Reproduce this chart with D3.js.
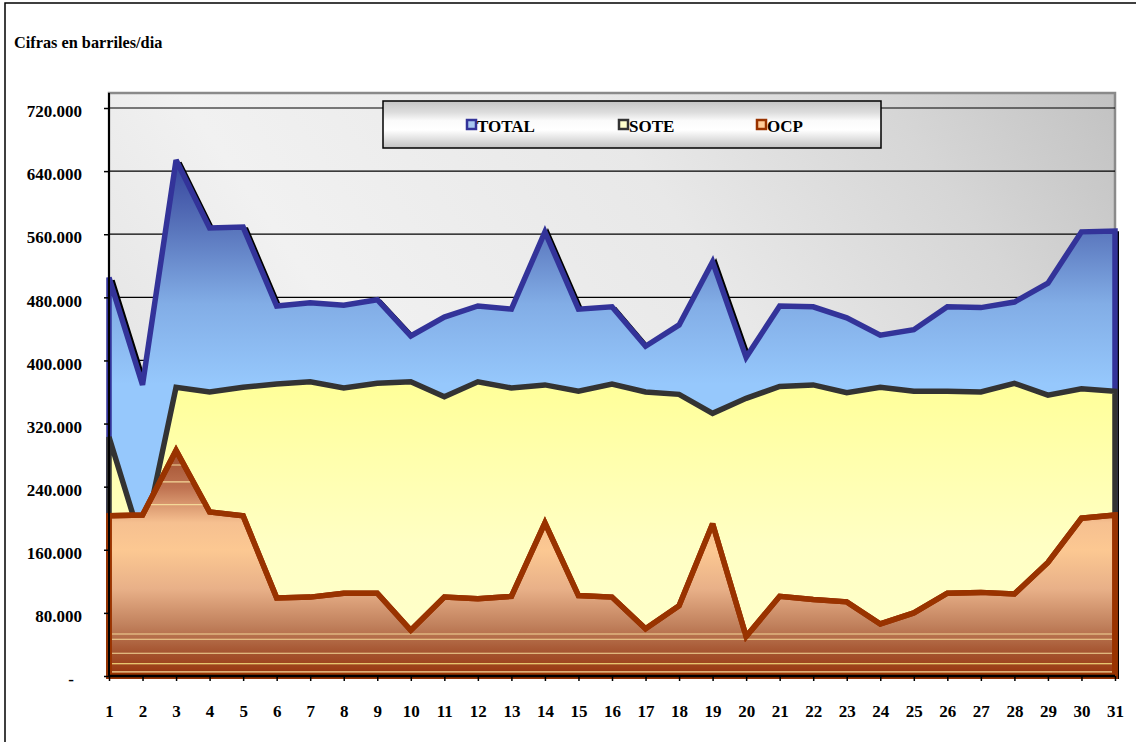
<!DOCTYPE html>
<html>
<head>
<meta charset="utf-8">
<script src="https://cdn.jsdelivr.net/npm/d3@7"></script>
<style>
  html, body { margin: 0; padding: 0; background: #ffffff; }
  svg { display: block; }
  text { font-family: "Liberation Serif", "Times New Roman", serif; font-weight: bold; fill: #000; }
</style>
</head>
<body>
<svg id="chart" width="1136" height="742"></svg>
<script>
// ---------- data ----------
const days = ["1","2","3","4","5","6","7","8","9","10","11","12","13","14","15","16","17","18","19","20","21","22","23","24","25","26","27","28","29","30","31"];
const seriesNames = ["TOTAL", "SOTE", "OCP"];
const total = [505000, 369000, 654000, 568000, 569000, 469000, 473000, 470000, 477000, 431000, 455000, 469000, 465000, 563000, 465000, 468000, 418000, 445000, 525000, 404000, 469000, 468000, 454000, 432000, 439000, 468000, 467000, 474000, 498000, 563000, 564000];
const sote  = [303000, 165000, 366000, 360000, 366000, 370000, 373000, 365000, 371000, 373000, 354000, 373000, 365000, 369000, 361000, 370000, 360000, 357000, 333000, 352000, 367000, 369000, 359000, 366000, 361000, 361000, 360000, 371000, 356000, 364000, 361000];
const ocp   = [203000, 204000, 286000, 208000, 203000,  99000, 100000, 105000, 105000,  58000, 100000,  98000, 101000, 194000, 102000, 100000,  60000,  89000, 193000,  50000, 101000,  97000,  94000,  66000,  80000, 105000, 106000, 104000, 144000, 200000, 204000];
const yTicks = [0, 80000, 160000, 240000, 320000, 400000, 480000, 560000, 640000, 720000];
const yTickLabels = ["-", "80.000", "160.000", "240.000", "320.000", "400.000", "480.000", "560.000", "640.000", "720.000"];
const yTitle = "Cifras en barriles/dia";

// ---------- layout ----------
const svg = d3.select("#chart");
const plot = { left: 109, right: 1115, top: 93, bottom: 676 };
const x = d3.scalePoint().domain(days).range([plot.left, plot.right]);
const y = d3.scaleLinear().domain([0, 720000]).range([plot.bottom, 108]);

const defs = svg.append("defs");
function lin(id, attrs, stops) {
  const g = defs.append("linearGradient").attr("id", id);
  Object.entries(attrs).forEach(([k, v]) => g.attr(k, v));
  stops.forEach(([o, c]) => g.append("stop").attr("offset", o).attr("stop-color", c));
}
lin("bgGrad", { x1: 0, y1: 0.4, x2: 1, y2: 0 }, [[0, "#e6e6e6"], [0.2, "#f1f1f1"], [0.55, "#e8e8e8"], [0.8, "#d6d6d6"], [1, "#c2c2c2"]]);
lin("totGrad", { gradientUnits: "userSpaceOnUse", x1: 0, y1: y(660000), x2: 0, y2: y(370000) }, [[0, "#33409a"], [0.3, "#5671b9"], [0.65, "#82ade6"], [1, "#96c8fc"]]);
lin("soteGrad", { gradientUnits: "userSpaceOnUse", x1: 0, y1: y(370000), x2: 0, y2: y(0) }, [[0, "#ffff99"], [0.55, "#ffffc4"], [1, "#ffffcc"]]);
lin("ocpGrad", { gradientUnits: "userSpaceOnUse", x1: 0, y1: y(290000), x2: 0, y2: y(0) }, [[0, "#9c4a2a"], [0.18, "#c07452"], [0.33, "#f6c090"], [0.45, "#fcc892"], [0.62, "#e8b088"], [0.78, "#c0805c"], [0.9, "#a4532f"], [1, "#98330a"]]);
lin("legGrad", { x1: 0, y1: 0, x2: 0, y2: 1 }, [[0, "#c4c4c4"], [0.25, "#dedede"], [0.42, "#fbfbfb"], [0.62, "#ffffff"], [0.8, "#e2e2e2"], [1, "#c2c2c2"]]);

defs.append("clipPath").attr("id", "plotClip").append("rect")
  .attr("x", plot.left).attr("y", plot.top)
  .attr("width", plot.right - plot.left + 1).attr("height", plot.bottom - plot.top);

// outer border
svg.append("rect").attr("x", 5).attr("y", 3).attr("width", 1150).attr("height", 760)
  .attr("fill", "#fff").attr("stroke", "#000").attr("stroke-width", 1.5);

// title
svg.append("text").attr("x", 14).attr("y", 48).style("font-size", "16.3px").text(yTitle);

// plot background
svg.append("rect").attr("x", plot.left).attr("y", plot.top)
  .attr("width", plot.right - plot.left).attr("height", plot.bottom - plot.top)
  .attr("fill", "url(#bgGrad)").attr("stroke", "#8a8a8a").attr("stroke-width", 2.5);

// gridlines
svg.append("g").selectAll("line").data(yTicks.filter(d => d > 0)).join("line")
  .attr("x1", plot.left).attr("x2", plot.right)
  .attr("y1", d => y(d)).attr("y2", d => y(d))
  .attr("stroke", "#000").attr("stroke-width", 1.2);

const area = d3.area().x((d, i) => x(days[i])).y0(y(0)).y1(d => y(d));

// TOTAL shadow
svg.append("path").datum(total).attr("d", area)
  .attr("transform", "translate(3,3)")
  .attr("clip-path", "url(#plotClip)")
  .attr("fill", "#000").attr("stroke", "#000").attr("stroke-width", 5.5)
  .attr("stroke-linejoin", "miter").attr("stroke-miterlimit", 3);

const series = [
  { name: "TOTAL", values: total, fill: "url(#totGrad)", stroke: "#333399" },
  { name: "SOTE",  values: sote,  fill: "url(#soteGrad)", stroke: "#333333" },
  { name: "OCP",   values: ocp,   fill: "url(#ocpGrad)", stroke: "#993300" }
];

series.forEach(s => {
  svg.append("path").datum(s.values).attr("d", area)
    .attr("fill", s.fill).attr("stroke", s.stroke).attr("stroke-width", 5.5)
    .attr("stroke-linejoin", "miter").attr("stroke-miterlimit", 3);
});

// texture bands inside OCP area
defs.append("clipPath").attr("id", "ocpClip").append("path").datum(ocp).attr("d", area);
const bandFracs = [0.378, 0.362, 0.333, 0.294, 0.072, 0.063, 0.039, 0.021, 0.007];
svg.append("g").attr("clip-path", "url(#ocpClip)").selectAll("line").data(bandFracs).join("line")
  .attr("x1", plot.left + 3).attr("x2", plot.right - 3)
  .attr("y1", d => plot.bottom - d * (plot.bottom - plot.top))
  .attr("y2", d => plot.bottom - d * (plot.bottom - plot.top))
  .attr("stroke", (d, i) => i === 7 ? "#fff08a" : "#f4d898").attr("stroke-width", 1.1);

// redraw OCP outline above bands
svg.append("path").datum(ocp).attr("d", area)
  .attr("fill", "none").attr("stroke", "#993300").attr("stroke-width", 5.5)
  .attr("stroke-linejoin", "miter").attr("stroke-miterlimit", 3);

// axes
const yAxis = d3.axisLeft(y).tickValues(yTicks).tickSize(5).tickFormat((d, i) => yTickLabels[i]);
const gy = svg.append("g").attr("transform", `translate(${plot.left},0)`).call(yAxis);
gy.selectAll(".tick line").attr("stroke", "#000").attr("stroke-width", 1.5);
gy.selectAll(".tick text").attr("x", (d) => d === 0 ? -35 : -27).attr("dy", "8.7")
  .style("font-size", "17px").style("font-family", "Liberation Serif").style("font-weight", "bold");
gy.select(".domain").attr("d", `M0,${plot.top}V${plot.bottom}`).attr("stroke", "#000").attr("stroke-width", 2);

const xAxis = d3.axisBottom(x).tickSize(5).tickSizeOuter(0);
const gx = svg.append("g").attr("transform", `translate(0,${plot.bottom})`).call(xAxis);
gx.select(".domain").attr("d", `M${plot.left},0H${plot.right}`).attr("stroke", "#000").attr("stroke-width", 2.5);
gx.selectAll(".tick line").attr("stroke", "#000").attr("stroke-width", 1.5);
gx.selectAll(".tick text").attr("y", 41).attr("dy", 0)
  .style("font-size", "17px").style("font-family", "Liberation Serif").style("font-weight", "bold");

// legend
const leg = svg.append("g");
leg.append("rect").attr("x", 383).attr("y", 101).attr("width", 498).attr("height", 47)
  .attr("fill", "url(#legGrad)").attr("stroke", "#000").attr("stroke-width", 1.5);
const legX = [466, 618, 756];
const legInner = ["#a8c8f0", "#ffffcc", "#ffcc99"];
series.forEach((s, i) => {
  leg.append("rect").attr("x", legX[i] + 1).attr("y", 120).attr("width", 9).attr("height", 9)
    .attr("fill", legInner[i]).attr("stroke", s.stroke).attr("stroke-width", 2.5);
  leg.append("text").attr("x", legX[i] + 11).attr("y", 132).style("font-size", "17px").text(s.name);
});
</script>
</body>
</html>
